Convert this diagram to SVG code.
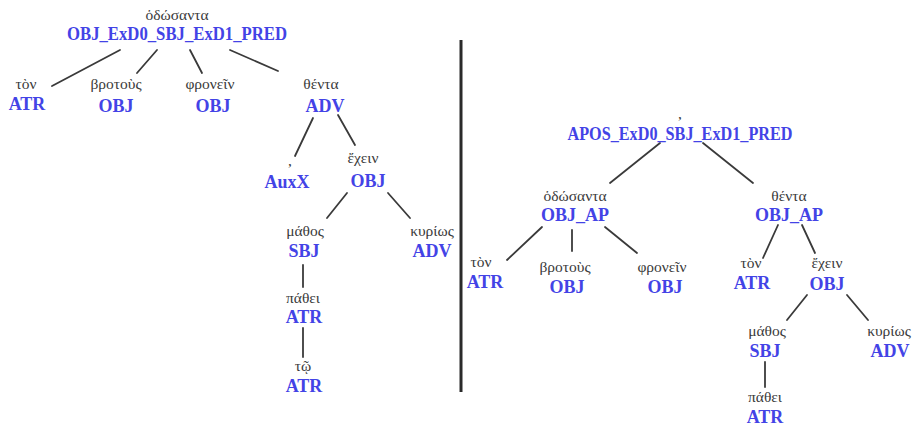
<svg xmlns="http://www.w3.org/2000/svg" width="913" height="428" viewBox="0 0 913 428">
<style>
.w{font-family:"Liberation Serif","DejaVu Serif",serif;font-size:15.5px;fill:#3a3a3a;text-anchor:middle}
.l{font-family:"Liberation Serif","DejaVu Serif",serif;font-size:18px;font-weight:bold;fill:#4343e6;text-anchor:middle}
.e line{stroke:#3a3a3a;stroke-width:1.8;stroke-linecap:round}
</style>
<rect width="913" height="428" fill="#fff"/>
<g class="e" id="connectors">
<line x1="120" y1="50" x2="52" y2="86"/>
<line x1="157" y1="50" x2="137" y2="73"/>
<line x1="190" y1="50" x2="202" y2="73"/>
<line x1="230" y1="50" x2="278" y2="71"/>
<line x1="313" y1="118" x2="295" y2="156"/>
<line x1="338" y1="115" x2="355" y2="145"/>
<line x1="347" y1="193" x2="327" y2="218"/>
<line x1="388" y1="193" x2="410" y2="218"/>
<line x1="303" y1="265" x2="303" y2="287"/>
<line x1="303" y1="328" x2="303" y2="357"/>
<line x1="660" y1="143" x2="610" y2="183"/>
<line x1="703" y1="143" x2="753" y2="183"/>
<line x1="542" y1="227" x2="507" y2="260"/>
<line x1="572" y1="230" x2="572" y2="251"/>
<line x1="605" y1="227" x2="637" y2="253"/>
<line x1="778" y1="225" x2="763" y2="258"/>
<line x1="802" y1="225" x2="815" y2="253"/>
<line x1="807" y1="295" x2="787" y2="320"/>
<line x1="847" y1="295" x2="868" y2="320"/>
<line x1="765" y1="362" x2="765" y2="387"/>
</g>
<line id="divider" x1="461" y1="40" x2="461" y2="392" stroke="#2a2a2a" stroke-width="3"/>
<g id="L-root"><text class="w" x="177" y="20">ὁδώσαντα</text><text class="l" x="177" y="40" textLength="220" lengthAdjust="spacingAndGlyphs">OBJ_ExD0_SBJ_ExD1_PRED</text></g>
<g id="L-ton"><text class="w" x="26" y="89">τὸν</text><text class="l" x="27" y="110">ATR</text></g>
<g id="L-brotous"><text class="w" x="116" y="89">βροτοὺς</text><text class="l" x="116" y="112">OBJ</text></g>
<g id="L-phronein"><text class="w" x="210" y="89">φρονεῖν</text><text class="l" x="213" y="112">OBJ</text></g>
<g id="L-thenta"><text class="w" x="321" y="89">θέντα</text><text class="l" x="325" y="112">ADV</text></g>
<g id="L-comma"><text class="w" x="290" y="166">,</text><text class="l" x="287" y="188">AuxX</text></g>
<g id="L-echein"><text class="w" x="363" y="163">ἔχειν</text><text class="l" x="368" y="187">OBJ</text></g>
<g id="L-mathos"><text class="w" x="305" y="236">μάθος</text><text class="l" x="304" y="257">SBJ</text></g>
<g id="L-kyrios"><text class="w" x="432" y="236">κυρίως</text><text class="l" x="432" y="257">ADV</text></g>
<g id="L-pathei"><text class="w" x="303" y="303">πάθει</text><text class="l" x="304" y="323">ATR</text></g>
<g id="L-toi"><text class="w" x="303" y="371">τῷ</text><text class="l" x="304" y="392">ATR</text></g>
<g id="R-root"><text class="w" x="680" y="119">,</text><text class="l" x="680" y="140" textLength="225" lengthAdjust="spacingAndGlyphs">APOS_ExD0_SBJ_ExD1_PRED</text></g>
<g id="R-hodosanta"><text class="w" x="575" y="201">ὁδώσαντα</text><text class="l" x="575" y="221">OBJ_AP</text></g>
<g id="R-thenta"><text class="w" x="789" y="201">θέντα</text><text class="l" x="789" y="221">OBJ_AP</text></g>
<g id="R-ton1"><text class="w" x="481" y="267">τὸν</text><text class="l" x="485" y="288">ATR</text></g>
<g id="R-brotous"><text class="w" x="565" y="272">βροτοὺς</text><text class="l" x="567" y="293">OBJ</text></g>
<g id="R-phronein"><text class="w" x="662" y="272">φρονεῖν</text><text class="l" x="665" y="293">OBJ</text></g>
<g id="R-ton2"><text class="w" x="751" y="268">τὸν</text><text class="l" x="752" y="289">ATR</text></g>
<g id="R-echein"><text class="w" x="827" y="268">ἔχειν</text><text class="l" x="827" y="290">OBJ</text></g>
<g id="R-mathos"><text class="w" x="767" y="336">μάθος</text><text class="l" x="765" y="357">SBJ</text></g>
<g id="R-kyrios"><text class="w" x="889" y="336">κυρίως</text><text class="l" x="890" y="357">ADV</text></g>
<g id="R-pathei"><text class="w" x="765" y="402">πάθει</text><text class="l" x="765" y="423">ATR</text></g>
</svg>
